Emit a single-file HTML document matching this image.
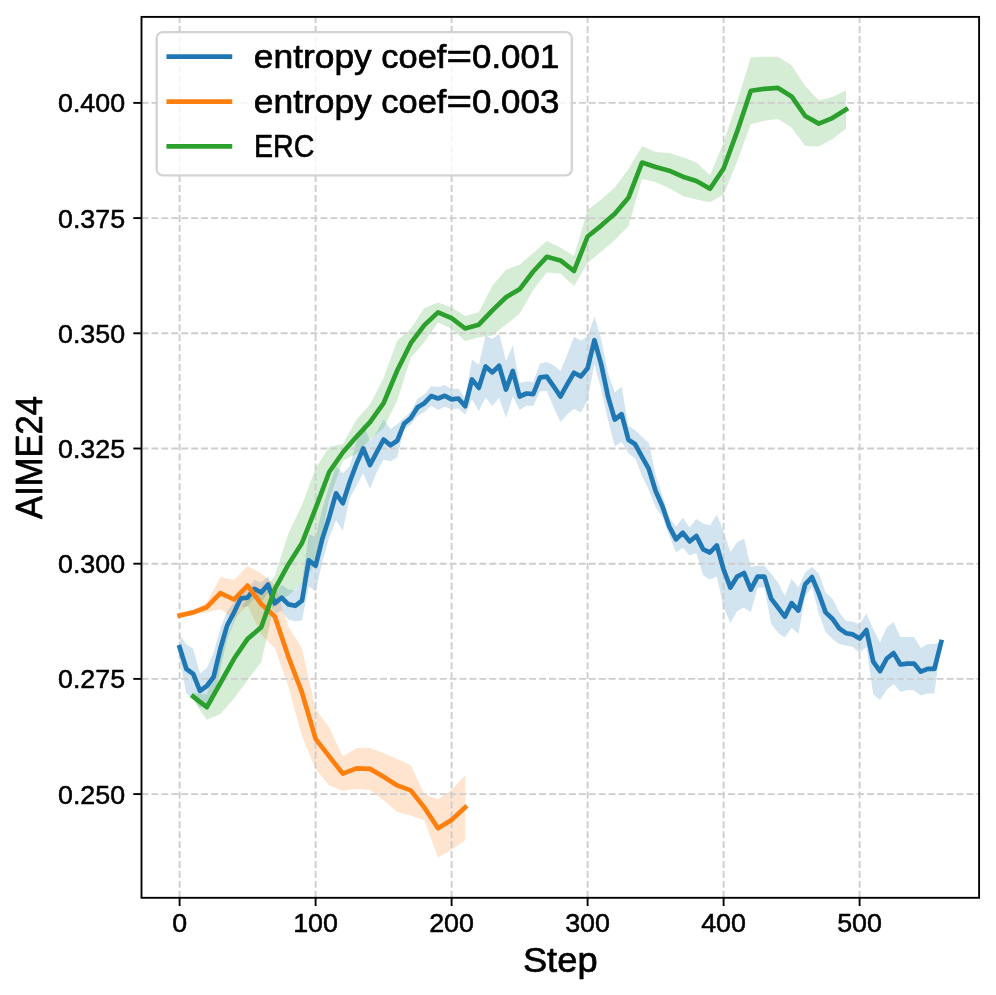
<!DOCTYPE html>
<html><head><meta charset="utf-8"><title>AIME24 vs Step</title>
<style>html,body{margin:0;padding:0;background:#fff;}svg{display:block;will-change:transform;}text{font-family:"Liberation Sans",sans-serif;fill:#000;stroke:#000;stroke-width:0.02em;stroke-linejoin:round;}</style></head><body>
<svg width="996" height="995" viewBox="0 0 996 995">
<rect x="0" y="0" width="996" height="995" fill="#ffffff"/>
<defs><clipPath id="ax"><rect x="141.5" y="16.9" width="837.6" height="880.9"/></clipPath></defs>
<g clip-path="url(#ax)">
<path d="M179.6,634.7 L186.4,644.5 L193.2,648.8 L200.0,673.5 L206.8,668.0 L213.6,652.4 L220.4,628.5 L227.2,611.3 L234.0,602.5 L240.8,589.3 L247.6,588.6 L254.4,579.8 L261.2,582.5 L268.0,576.6 L274.8,593.4 L281.6,584.8 L288.4,589.4 L295.2,590.3 L302.0,582.6 L308.8,534.2 L315.6,537.0 L322.4,508.5 L329.2,486.4 L336.0,466.3 L342.8,473.3 L349.6,466.2 L356.4,442.1 L363.2,423.8 L370.0,441.0 L376.8,432.1 L383.6,419.5 L390.4,429.0 L397.2,424.3 L404.0,418.1 L410.8,411.5 L417.6,398.8 L424.4,394.4 L431.2,386.2 L438.0,387.1 L444.8,384.9 L451.6,389.3 L458.4,388.5 L465.2,397.7 L472.0,359.6 L478.8,364.9 L485.6,335.4 L492.4,338.9 L499.2,333.8 L506.0,360.9 L512.8,345.4 L519.6,382.9 L526.4,381.5 L533.2,382.1 L540.0,363.6 L546.8,362.1 L553.6,365.3 L560.4,370.9 L567.2,354.4 L574.0,336.8 L580.8,340.4 L587.6,336.3 L594.4,316.6 L601.2,339.3 L608.0,372.9 L614.8,392.6 L621.6,386.6 L628.4,426.1 L635.2,430.3 L642.0,436.8 L648.8,442.9 L655.6,475.0 L662.4,495.2 L669.2,517.3 L676.0,526.4 L682.8,517.8 L689.6,527.4 L696.4,519.0 L703.2,523.4 L710.0,525.5 L716.8,514.4 L723.6,531.8 L730.4,552.0 L737.2,542.2 L744.0,538.5 L750.8,567.0 L757.6,565.6 L764.4,565.8 L771.2,573.4 L778.0,582.7 L784.8,595.8 L791.6,578.7 L798.4,587.4 L805.2,572.3 L812.0,567.1 L818.8,573.4 L825.6,592.7 L832.4,598.4 L839.2,612.5 L846.0,620.8 L852.8,621.7 L859.6,624.3 L866.4,613.4 L873.2,629.0 L880.0,642.4 L886.8,627.3 L893.6,622.1 L900.4,637.1 L907.2,637.1 L914.0,636.9 L920.8,647.9 L927.6,644.2 L934.4,644.1 L941.2,641.5 L941.2,642.5 L934.4,693.5 L927.6,693.4 L920.8,695.5 L914.0,690.3 L907.2,690.1 L900.4,691.9 L893.6,684.1 L886.8,689.7 L880.0,700.0 L873.2,694.2 L866.4,646.8 L859.6,652.9 L852.8,647.1 L846.0,645.6 L839.2,644.1 L832.4,639.0 L825.6,632.1 L818.8,613.4 L812.0,587.1 L805.2,596.3 L798.4,633.8 L791.6,627.7 L784.8,637.4 L778.0,632.7 L771.2,624.0 L764.4,587.4 L757.6,587.6 L750.8,612.2 L744.0,607.5 L737.2,611.0 L730.4,623.2 L723.6,607.2 L716.8,576.4 L710.0,579.5 L703.2,575.4 L696.4,553.0 L689.6,555.4 L682.8,547.8 L676.0,552.4 L669.2,535.3 L662.4,517.2 L655.6,507.0 L648.8,489.9 L642.0,475.8 L635.2,458.3 L628.4,453.3 L621.6,441.8 L614.8,446.6 L608.0,420.1 L601.2,389.3 L594.4,363.8 L587.6,400.3 L580.8,412.4 L574.0,408.8 L567.2,414.4 L560.4,422.1 L553.6,407.3 L546.8,391.1 L540.0,391.2 L533.2,406.1 L526.4,405.5 L519.6,410.1 L512.8,396.6 L506.0,418.1 L499.2,397.8 L492.4,405.9 L485.6,397.4 L478.8,410.9 L472.0,399.2 L465.2,414.7 L458.4,408.5 L451.6,409.3 L444.8,406.7 L438.0,409.9 L431.2,405.8 L424.4,412.0 L417.6,415.8 L410.8,424.5 L404.0,429.5 L397.2,457.3 L390.4,461.6 L383.6,459.5 L376.8,472.1 L370.0,489.0 L363.2,473.2 L356.4,486.1 L349.6,498.2 L342.8,530.8 L336.0,520.3 L329.2,537.4 L322.4,561.5 L315.6,591.7 L308.8,586.2 L302.0,620.4 L295.2,621.3 L288.4,619.4 L281.6,610.8 L274.8,613.4 L268.0,592.6 L261.2,602.5 L254.4,597.8 L247.6,606.6 L240.8,607.3 L234.0,622.5 L227.2,639.3 L220.4,668.5 L213.6,701.6 L206.8,704.0 L200.0,708.1 L193.2,698.8 L186.4,693.5 L179.6,659.7Z" fill="#1f77b4" fill-opacity="0.2" stroke="none"/>
<path d="M179.6,613.1 L193.2,609.9 L206.8,602.2 L220.4,576.9 L234.0,580.0 L247.6,566.0 L261.2,573.6 L274.8,584.7 L288.4,626.8 L302.0,648.5 L315.6,708.9 L329.2,727.4 L342.8,756.4 L356.4,747.9 L370.0,747.7 L383.6,753.3 L397.2,758.9 L410.8,765.2 L424.4,794.6 L438.0,799.2 L451.6,790.1 L465.2,775.0 L465.2,840.3 L451.6,849.7 L438.0,857.4 L424.4,820.6 L410.8,815.6 L397.2,811.9 L383.6,800.3 L370.0,790.1 L356.4,788.9 L342.8,790.8 L329.2,785.4 L315.6,768.9 L302.0,736.5 L288.4,686.8 L274.8,648.3 L261.2,634.6 L247.6,605.2 L234.0,619.0 L220.4,609.3 L206.8,612.2 L193.2,614.9 L179.6,617.9Z" fill="#ff7f0e" fill-opacity="0.2" stroke="none"/>
<path d="M193.2,693.1 L206.8,694.6 L220.4,652.0 L234.0,619.1 L247.6,597.9 L261.2,592.6 L274.8,575.7 L288.4,533.4 L302.0,505.0 L315.6,468.3 L329.2,447.0 L342.8,443.9 L356.4,419.8 L370.0,404.6 L383.6,378.1 L397.2,340.5 L410.8,328.7 L424.4,308.1 L438.0,302.4 L451.6,307.6 L465.2,315.9 L478.8,312.2 L492.4,285.4 L506.0,269.8 L519.6,264.8 L533.2,253.0 L546.8,241.0 L560.4,247.4 L574.0,256.1 L587.6,210.1 L601.2,199.6 L614.8,187.6 L628.4,169.3 L642.0,146.3 L655.6,152.1 L669.2,153.1 L682.8,157.3 L696.4,162.5 L710.0,175.2 L723.6,142.5 L737.2,101.4 L750.8,57.4 L764.4,56.8 L778.0,56.7 L791.6,65.2 L805.2,86.0 L818.8,100.6 L832.4,96.9 L846.0,90.6 L846.0,128.6 L832.4,139.3 L818.8,146.6 L805.2,146.0 L791.6,127.6 L778.0,119.1 L764.4,120.8 L750.8,124.0 L737.2,161.4 L723.6,194.5 L710.0,202.2 L696.4,199.5 L682.8,196.1 L669.2,188.3 L655.6,182.1 L642.0,178.9 L628.4,226.3 L614.8,240.0 L601.2,251.6 L587.6,262.9 L574.0,285.9 L560.4,273.4 L546.8,272.6 L533.2,290.0 L519.6,313.8 L506.0,324.6 L492.4,335.4 L478.8,337.2 L465.2,341.1 L451.6,328.8 L438.0,322.4 L424.4,342.1 L410.8,357.7 L397.2,400.5 L383.6,428.1 L370.0,439.6 L356.4,453.8 L342.8,461.1 L329.2,499.8 L315.6,563.3 L302.0,583.5 L288.4,595.4 L274.8,602.7 L261.2,662.0 L247.6,679.9 L234.0,698.5 L220.4,714.0 L206.8,719.8 L193.2,700.1Z" fill="#2ca02c" fill-opacity="0.2" stroke="none"/>
</g>
<g stroke="#cdcdcd" stroke-width="1.88" stroke-dasharray="6.94 3.0" fill="none">
<path d="M179.6,897.8 L179.6,16.9"/>
<path d="M315.6,897.8 L315.6,16.9"/>
<path d="M451.6,897.8 L451.6,16.9"/>
<path d="M587.6,897.8 L587.6,16.9"/>
<path d="M723.6,897.8 L723.6,16.9"/>
<path d="M859.6,897.8 L859.6,16.9"/>
<path d="M141.5,794.1 L979.1,794.1"/>
<path d="M141.5,678.9 L979.1,678.9"/>
<path d="M141.5,563.7 L979.1,563.7"/>
<path d="M141.5,448.5 L979.1,448.5"/>
<path d="M141.5,333.3 L979.1,333.3"/>
<path d="M141.5,218.1 L979.1,218.1"/>
<path d="M141.5,102.9 L979.1,102.9"/>
</g>
<g clip-path="url(#ax)" fill="none" stroke-width="4.69" stroke-linejoin="round" stroke-linecap="square">
<path d="M179.6,647.2 L186.4,669.0 L193.2,673.8 L200.0,690.8 L206.8,686.0 L213.6,677.0 L220.4,648.5 L227.2,625.3 L234.0,612.5 L240.8,598.3 L247.6,597.6 L254.4,588.8 L261.2,592.5 L268.0,584.6 L274.8,603.4 L281.6,597.8 L288.4,604.4 L295.2,605.8 L302.0,600.6 L308.8,560.2 L315.6,565.7 L322.4,538.5 L329.2,517.4 L336.0,493.3 L342.8,503.3 L349.6,482.2 L356.4,464.1 L363.2,448.5 L370.0,465.0 L376.8,452.1 L383.6,439.5 L390.4,445.3 L397.2,440.8 L404.0,423.8 L410.8,418.0 L417.6,407.3 L424.4,403.2 L431.2,396.0 L438.0,398.5 L444.8,395.8 L451.6,399.3 L458.4,398.5 L465.2,406.2 L472.0,379.4 L478.8,387.9 L485.6,366.4 L492.4,372.4 L499.2,365.8 L506.0,389.5 L512.8,371.0 L519.6,396.5 L526.4,393.5 L533.2,394.1 L540.0,377.4 L546.8,376.6 L553.6,386.3 L560.4,396.5 L567.2,384.4 L574.0,372.8 L580.8,376.4 L587.6,368.3 L594.4,340.2 L601.2,364.3 L608.0,396.5 L614.8,419.6 L621.6,414.2 L628.4,439.7 L635.2,444.3 L642.0,456.8 L648.8,468.9 L655.6,491.0 L662.4,506.2 L669.2,526.3 L676.0,539.4 L682.8,532.8 L689.6,541.4 L696.4,536.0 L703.2,549.4 L710.0,552.5 L716.8,545.4 L723.6,569.5 L730.4,587.6 L737.2,576.6 L744.0,573.0 L750.8,589.6 L757.6,576.6 L764.4,576.6 L771.2,598.7 L778.0,607.7 L784.8,616.6 L791.6,603.2 L798.4,610.6 L805.2,584.3 L812.0,577.1 L818.8,593.4 L825.6,612.4 L832.4,618.7 L839.2,628.3 L846.0,633.2 L852.8,634.4 L859.6,638.6 L866.4,630.1 L873.2,661.6 L880.0,671.2 L886.8,658.5 L893.6,653.1 L900.4,664.5 L907.2,663.6 L914.0,663.6 L920.8,671.7 L927.6,668.8 L934.4,668.8 L941.2,642.0" stroke="#1f77b4"/>
<path d="M179.6,615.5 L193.2,612.4 L206.8,607.2 L220.4,593.1 L234.0,599.5 L247.6,585.6 L261.2,604.1 L274.8,616.5 L288.4,656.8 L302.0,692.5 L315.6,738.9 L329.2,756.4 L342.8,773.6 L356.4,768.4 L370.0,768.9 L383.6,776.8 L397.2,785.4 L410.8,790.4 L424.4,807.6 L438.0,828.3 L451.6,819.9 L465.2,807.3" stroke="#ff7f0e"/>
<path d="M193.2,696.6 L206.8,707.2 L220.4,683.0 L234.0,658.8 L247.6,638.9 L261.2,627.3 L274.8,589.2 L288.4,564.4 L302.0,543.0 L315.6,508.3 L329.2,472.0 L342.8,452.5 L356.4,436.8 L370.0,422.1 L383.6,403.1 L397.2,370.5 L410.8,343.2 L424.4,325.1 L438.0,312.4 L451.6,318.2 L465.2,328.5 L478.8,324.7 L492.4,310.4 L506.0,297.2 L519.6,289.3 L533.2,271.5 L546.8,256.8 L560.4,260.4 L574.0,271.0 L587.6,236.5 L601.2,225.6 L614.8,213.8 L628.4,197.8 L642.0,162.6 L655.6,167.1 L669.2,170.7 L682.8,176.7 L696.4,181.0 L710.0,188.7 L723.6,168.5 L737.2,131.4 L750.8,90.7 L764.4,88.8 L778.0,87.9 L791.6,96.4 L805.2,116.0 L818.8,123.6 L832.4,118.1 L846.0,109.6" stroke="#2ca02c"/>
</g>
<g stroke="#000" stroke-width="1.88" fill="none">
<path d="M179.6,897.8 L179.6,906.0"/>
<path d="M315.6,897.8 L315.6,906.0"/>
<path d="M451.6,897.8 L451.6,906.0"/>
<path d="M587.6,897.8 L587.6,906.0"/>
<path d="M723.6,897.8 L723.6,906.0"/>
<path d="M859.6,897.8 L859.6,906.0"/>
<path d="M141.5,794.1 L133.3,794.1"/>
<path d="M141.5,678.9 L133.3,678.9"/>
<path d="M141.5,563.7 L133.3,563.7"/>
<path d="M141.5,448.5 L133.3,448.5"/>
<path d="M141.5,333.3 L133.3,333.3"/>
<path d="M141.5,218.1 L133.3,218.1"/>
<path d="M141.5,102.9 L133.3,102.9"/>
</g>
<rect x="141.5" y="16.9" width="837.6" height="880.9" fill="none" stroke="#000" stroke-width="1.88" stroke-linejoin="miter"/>
<text x="172.2" y="931.9" font-size="25.0" textLength="14.9" lengthAdjust="spacingAndGlyphs">0</text>
<text x="293.2" y="931.9" font-size="25.0" textLength="44.8" lengthAdjust="spacingAndGlyphs">100</text>
<text x="429.2" y="931.9" font-size="25.0" textLength="44.8" lengthAdjust="spacingAndGlyphs">200</text>
<text x="565.2" y="931.9" font-size="25.0" textLength="44.8" lengthAdjust="spacingAndGlyphs">300</text>
<text x="701.2" y="931.9" font-size="25.0" textLength="44.8" lengthAdjust="spacingAndGlyphs">400</text>
<text x="837.2" y="931.9" font-size="25.0" textLength="44.8" lengthAdjust="spacingAndGlyphs">500</text>
<text x="58.0" y="803.6" font-size="25.0" textLength="67.1" lengthAdjust="spacingAndGlyphs">0.250</text>
<text x="58.0" y="688.4" font-size="25.0" textLength="67.1" lengthAdjust="spacingAndGlyphs">0.275</text>
<text x="58.0" y="573.2" font-size="25.0" textLength="67.1" lengthAdjust="spacingAndGlyphs">0.300</text>
<text x="58.0" y="457.9" font-size="25.0" textLength="67.1" lengthAdjust="spacingAndGlyphs">0.325</text>
<text x="58.0" y="342.8" font-size="25.0" textLength="67.1" lengthAdjust="spacingAndGlyphs">0.350</text>
<text x="58.0" y="227.6" font-size="25.0" textLength="67.1" lengthAdjust="spacingAndGlyphs">0.375</text>
<text x="58.0" y="112.4" font-size="25.0" textLength="67.1" lengthAdjust="spacingAndGlyphs">0.400</text>
<text x="522.9" y="971.9" font-size="35.3" textLength="74.7" lengthAdjust="spacingAndGlyphs">Step</text>
<g transform="translate(42.1,518.9) rotate(-90)"><text x="0" y="0" font-size="36.6" textLength="122.9" lengthAdjust="spacingAndGlyphs">AIME24</text></g>
<rect x="156.7" y="32.1" width="415.1" height="143.3" rx="6.1" ry="6.1" fill="#ffffff" fill-opacity="0.8" stroke="#cccccc" stroke-opacity="0.85" stroke-width="2.34"/>
<path d="M168.8,56.65 L229.9,56.65" stroke="#1f77b4" stroke-width="4.69" stroke-linecap="square" fill="none"/>
<text y="68.0" font-size="32.3" xml:space="preserve"><tspan x="253.8" textLength="118.0" lengthAdjust="spacingAndGlyphs">entropy</tspan><tspan x="371.8" textLength="74.6" lengthAdjust="spacingAndGlyphs"> coef</tspan><tspan x="446.4" textLength="25.6" lengthAdjust="spacingAndGlyphs">=</tspan><tspan x="472.0" textLength="87.3" lengthAdjust="spacingAndGlyphs">0.001</tspan></text>
<path d="M168.8,101.55 L229.9,101.55" stroke="#ff7f0e" stroke-width="4.69" stroke-linecap="square" fill="none"/>
<text y="113.0" font-size="32.3" xml:space="preserve"><tspan x="253.8" textLength="118.0" lengthAdjust="spacingAndGlyphs">entropy</tspan><tspan x="371.8" textLength="74.6" lengthAdjust="spacingAndGlyphs"> coef</tspan><tspan x="446.4" textLength="25.6" lengthAdjust="spacingAndGlyphs">=</tspan><tspan x="472.0" textLength="87.3" lengthAdjust="spacingAndGlyphs">0.003</tspan></text>
<path d="M168.8,146.30 L229.9,146.30" stroke="#2ca02c" stroke-width="4.69" stroke-linecap="square" fill="none"/>
<text x="253.9" y="156.6" font-size="32.0" textLength="60.4" lengthAdjust="spacingAndGlyphs">ERC</text>
</svg></body></html>
